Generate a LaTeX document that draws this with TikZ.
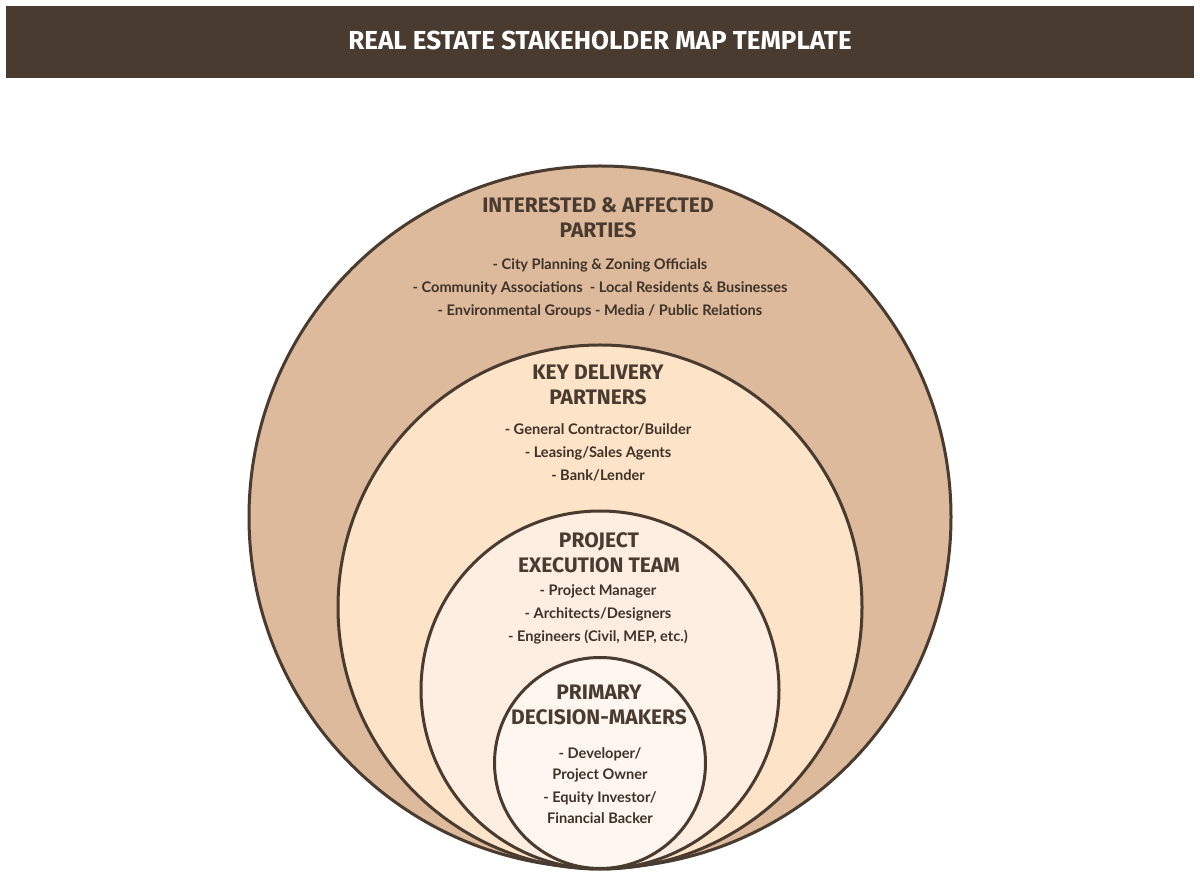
\documentclass[tikz,border=0pt]{standalone}
\usepackage{fontspec}
\setmainfont{Lato}
\newfontfamily\headfont{Fira Sans}
\definecolor{Bark}{HTML}{4A3B30}
\definecolor{Tan}{HTML}{DDBA9B}
\definecolor{Peach}{HTML}{FDE3C7}
\definecolor{Cream}{HTML}{FDEEE1}
\definecolor{Shell}{HTML}{FEF6EF}

\begin{document}
\begin{tikzpicture}[
    x=0.5pt, y=-0.5pt,
    ring/.style={draw=Bark, line width=1.5pt},
    head/.style={font=\headfont\bfseries\fontsize{10.5}{12.5}\selectfont, text=Bark, align=center},
    items/.style={font=\bfseries\fontsize{7.3}{11.5}\selectfont, text=Bark!85!black, align=center}
    ]
    \useasboundingbox (0,0) rectangle (1200,876);
    \fill[white] (0,0) rectangle (1200,876);

    % title bar
    \fill[Bark] (6,6) rectangle (1194,78);
    \node[font=\headfont\bfseries\fontsize{13}{15}\selectfont, text=white] (title) at (600,40) {REAL ESTATE STAKEHOLDER MAP TEMPLATE};

    % nested circles
    \draw[ring, fill=Tan] (600,517) circle [radius=351];
    \draw[ring, fill=Peach] (600,607) circle [radius=262];
    \draw[ring, fill=Cream] (600,690) circle [radius=179];
    \draw[ring, fill=Shell] (600,763) circle [radius=105.5];

    % outer ring
    \node[head] (affH) at (598,218) {INTERESTED \& AFFECTED\\PARTIES};
    \node[items] (affL) at (600,288) {- City Planning \& Zoning Officials\\- Community Associations\ \ - Local Residents \& Businesses\\- Environmental Groups\ - Media / Public Relations};

    % delivery ring
    \node[head] (delH) at (598,385) {KEY DELIVERY\\PARTNERS};
    \node[items] (delL) at (598,452) {- General Contractor/Builder\\- Leasing/Sales Agents\\- Bank/Lender};

    % execution ring
    \node[head] (exeH) at (599,553) {PROJECT\\EXECUTION TEAM};
    \node[items] (exeL) at (598,614) {- Project Manager\\- Architects/Designers\\- Engineers (Civil, MEP, etc.)};

    % core
    \node[head] (decH) at (599,705) {PRIMARY\\DECISION-MAKERS};
    \node[items, font=\bfseries\fontsize{7.3}{10.5}\selectfont] (decA) at (600,765) {- Developer/\\Project Owner};
    \node[items, font=\bfseries\fontsize{7.3}{10.5}\selectfont] (decB) at (600,808) {- Equity Investor/\\Financial Backer};
\end{tikzpicture}
\end{document}
